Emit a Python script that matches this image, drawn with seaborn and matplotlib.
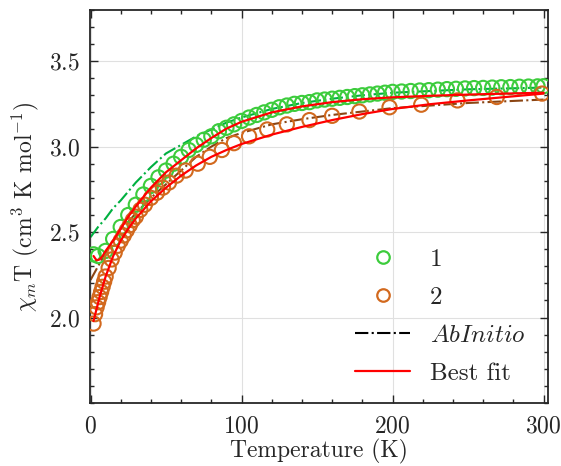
import numpy as np
import pandas as pd
import matplotlib
matplotlib.use('Agg')
import matplotlib.pyplot as plt
from matplotlib.ticker import MultipleLocator
from matplotlib.lines import Line2D
import seaborn as sns

# measured chi_m T for compound 1
temp_1 = [2, 5, 10, 15, 20, 25, 30, 35, 40, 45, 50, 55, 60, 65, 70, 75, 80, 85, 90, 95,
          100, 105, 110, 115, 120, 125, 130, 135, 140, 145, 150, 155, 160, 165, 170, 175,
          180, 185, 190, 195, 200, 206, 212, 218, 224, 230, 236, 242, 248, 254, 260, 266,
          272, 278, 284, 290, 296, 300]
chi_1 = [2.37, 2.36, 2.39, 2.46, 2.53, 2.60, 2.66, 2.72, 2.77, 2.82, 2.86, 2.90, 2.94, 2.98,
         3.01, 3.04, 3.06, 3.09, 3.11, 3.13, 3.15, 3.17, 3.185, 3.20, 3.215, 3.23, 3.24,
         3.25, 3.255, 3.26, 3.27, 3.275, 3.28, 3.285, 3.29, 3.295, 3.30, 3.305, 3.31, 3.315,
         3.32, 3.322, 3.325, 3.328, 3.33, 3.333, 3.336, 3.338, 3.34, 3.342, 3.343, 3.345,
         3.347, 3.348, 3.35, 3.351, 3.352, 3.353]

# measured chi_m T for compound 2
temp_2 = [2, 3, 4, 5, 6, 7, 8, 9, 10, 12, 14, 16, 18, 20, 22, 24, 26, 28, 30, 33, 36, 40,
          44, 48, 52, 57, 63, 71, 79, 87, 95, 105, 117, 130, 145, 160, 178, 198, 219, 243,
          269, 299]
chi_2 = [1.965, 2.02, 2.06, 2.09, 2.12, 2.15, 2.18, 2.21, 2.24, 2.29, 2.34, 2.38, 2.42, 2.45,
         2.48, 2.51, 2.54, 2.57, 2.59, 2.63, 2.66, 2.70, 2.73, 2.76, 2.79, 2.83, 2.86, 2.90,
         2.94, 2.98, 3.02, 3.06, 3.10, 3.13, 3.155, 3.18, 3.205, 3.23, 3.245, 3.27, 3.29, 3.31]

# ab initio curves
abi_temp = [0, 5, 10, 15, 20, 30, 40, 50, 60, 70, 80, 90, 100, 120, 140, 160, 180, 200, 250, 300]
abi_1 = [2.47, 2.53, 2.58, 2.64, 2.685, 2.79, 2.88, 2.96, 3.01, 3.06, 3.10, 3.14, 3.17,
         3.22, 3.255, 3.28, 3.30, 3.315, 3.335, 3.345]
abi_2 = [2.22, 2.30, 2.38, 2.45, 2.51, 2.61, 2.70, 2.78, 2.86, 2.94, 3.00, 3.05, 3.08,
         3.13, 3.16, 3.185, 3.205, 3.225, 3.255, 3.275]

# best fit curves
fit_temp = [2, 4, 6, 8, 10, 15, 20, 25, 30, 40, 50, 60, 70, 80, 90, 100, 120, 140, 160,
            180, 200, 225, 250, 275, 300]
fit_1 = [2.36, 2.335, 2.34, 2.36, 2.39, 2.45, 2.52, 2.59, 2.65, 2.76, 2.85, 2.92, 2.99,
         3.05, 3.105, 3.145, 3.20, 3.235, 3.26, 3.277, 3.288, 3.297, 3.304, 3.31, 3.315]
fit_2 = [1.98, 2.05, 2.12, 2.18, 2.24, 2.36, 2.45, 2.52, 2.58, 2.68, 2.76, 2.83, 2.89,
         2.94, 2.98, 3.015, 3.07, 3.115, 3.155, 3.19, 3.22, 3.248, 3.27, 3.29, 3.31]

green = '#3ccc3c'
orange = '#d2691e'
abi_green = '#00b040'
abi_brown = '#8b4513'

sns.set_style('ticks')
plt.rcParams['font.family'] = 'serif'
plt.rcParams['font.serif'] = ['cmr10']
plt.rcParams['mathtext.fontset'] = 'cm'
plt.rcParams['axes.formatter.use_mathtext'] = True
plt.rcParams['axes.unicode_minus'] = False

fig = plt.figure(figsize=(5.61, 4.66), dpi=100)
ax = fig.add_axes([0.160, 0.135, 0.817, 0.844])

sns.lineplot(x=abi_temp, y=abi_1, color=abi_green, linestyle='-.', lw=1.5, ax=ax)
sns.lineplot(x=abi_temp, y=abi_2, color=abi_brown, linestyle='-.', lw=1.5, ax=ax)
sns.scatterplot(x=temp_1, y=chi_1, marker='o', s=105, facecolor='none',
                edgecolor=green, linewidth=1.5, ax=ax, zorder=3)
sns.scatterplot(x=temp_2, y=chi_2, marker='o', s=105, facecolor='none',
                edgecolor=orange, linewidth=1.5, ax=ax, zorder=3)
sns.lineplot(x=fit_temp, y=fit_1, color='red', lw=1.6, ax=ax, zorder=4)
sns.lineplot(x=fit_temp, y=fit_2, color='red', lw=1.6, ax=ax, zorder=4)

ax.set_xlim(-0.5, 303)
ax.set_ylim(1.5, 3.8)
ax.set_xticks([0, 100, 200, 300])
ax.set_yticks([2.0, 2.5, 3.0, 3.5])
ax.xaxis.set_minor_locator(MultipleLocator(20))
ax.yaxis.set_minor_locator(MultipleLocator(0.1))
ax.tick_params(which='both', direction='in', top=True, right=True, labelsize=17, width=1.0)
ax.tick_params(which='major', length=6)
ax.tick_params(which='minor', length=3)
ax.tick_params(axis='x', which='major', pad=9)
ax.tick_params(axis='y', which='major', pad=7)
ax.grid(True, which='major', color='#e0e0e0', lw=0.8)
ax.set_axisbelow(True)
for sp in ax.spines.values():
    sp.set_linewidth(1.3)

ax.set_xlabel('Temperature (K)', fontsize=17, labelpad=1)
ax.set_ylabel(r'$\chi_m$T (cm$^3$ K mol$^{-1}$)', fontsize=17, labelpad=6)

handles = [
    Line2D([], [], marker='o', ls='none', mfc='none', mec=green, mew=1.6, ms=9),
    Line2D([], [], marker='o', ls='none', mfc='none', mec=orange, mew=1.6, ms=9),
    Line2D([], [], color='black', ls='-.', lw=1.5),
    Line2D([], [], color='red', lw=1.6),
]
labels = ['1', '2', r'$AbInitio$', 'Best fit']
ax.legend(handles, labels, loc='lower right', frameon=False, fontsize=18,
          handlelength=2.2, handletextpad=0.8, labelspacing=0.62,
          bbox_to_anchor=(1.0, -0.01))

fig.savefig('out.png', dpi=100)
